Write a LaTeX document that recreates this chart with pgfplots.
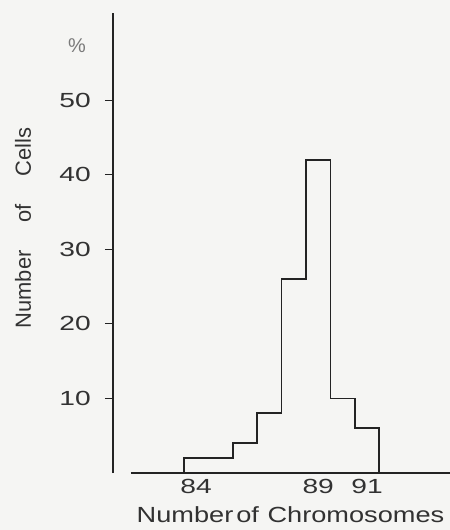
\documentclass[border=0pt]{standalone}
\usepackage{pgfplots}
\pgfplotsset{compat=1.18}
\usepackage{fontspec}
\setmainfont{Liberation Sans}
\newfontfamily\tickfont[FakeStretch=1.38]{Liberation Sans}
\newfontfamily\labfont[FakeStretch=1.24]{Liberation Sans}
\usetikzlibrary{backgrounds}
\definecolor{ink}{RGB}{35,35,35}
\definecolor{txt}{RGB}{50,50,50}
\definecolor{paper}{RGB}{245,245,243}

\begin{document}
\begin{tikzpicture}[x=1bp,y=1bp]
\begin{axis}[
 at={(0,0)},anchor=south west,
 scale only axis,width=319bp,height=460bp,
 xmin=81.33,xmax=94.4,ymin=0,ymax=61.7,
 axis x line=bottom,axis y line=left,
 axis y line shift=18bp,
 axis line style={-,draw=ink,line width=1.3bp},
 xtick={84,89,91},ytick={10,20,30,40,50},
 xtick style={draw=none},
 ytick style={draw=ink,line width=1.2bp},
 tick align=outside,major tick length=8bp,
 /pgf/number format/assume math mode=true,
 yticklabel style={font=\tickfont\fontsize{20.5}{23}\selectfont,text=txt,anchor=east,inner sep=0pt,xshift=-14bp},
 xticklabel style={font=\tickfont\fontsize{20.5}{23}\selectfont,text=txt,anchor=north,inner sep=0pt,yshift=2bp},
 xlabel={Number\hspace{3bp}of\hspace{1bp} Chromosomes},
 xlabel style={font=\labfont\fontsize{22}{25}\selectfont,text=txt,at={(rel axis cs:0.5,0)},anchor=base,inner sep=0pt,yshift=-49bp},
 clip=false]
% percent of cells per chromosome number (bins 84..91)
\addplot[const plot,draw=ink,line width=1.8bp] coordinates {
 (83.5,0) (83.5,2) (84.5,2) (85.5,4) (86.5,8) (87.5,26) (88.5,42) (89.5,10) (90.5,6) (91.5,0)};
\node[xshift=-108bp,rotate=90,font=\fontsize{22}{25}\selectfont,text=txt,inner sep=0pt]
 at (rel axis cs:0,0.533) {Number\hspace{28bp}of\hspace{28bp}Cells};
\node[font=\fontsize{20}{22}\selectfont,text=txt!65,inner sep=0pt]
 at (rel axis cs:0,0.93) [xshift=-54bp] {\%};
\end{axis}
\pgfresetboundingbox
\path (-131,-57) rectangle (319,473);
\begin{scope}[on background layer]
\fill[paper] (-131,-57) rectangle (319,473);
\end{scope}
\end{tikzpicture}
\end{document}
